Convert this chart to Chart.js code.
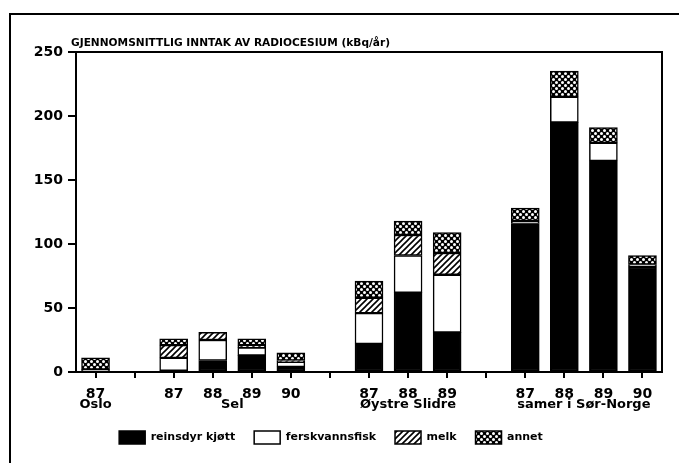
<!DOCTYPE html>
<html>
<head>
<meta charset="utf-8">
<script src="https://cdn.jsdelivr.net/npm/chart.js@4/dist/chart.umd.min.js"></script>
<style>
  html, body { margin: 0; padding: 0; background: #fff; }
  #wrap { position: relative; width: 679px; height: 463px; }
</style>
</head>
<body>
<div id="wrap"><canvas id="chart" width="679" height="463"></canvas></div>
<script>
// Gjennomsnittlig inntak av radiocesium (kBq/år), stacked per food group

const years = ['87', '', '87', '88', '89', '90', '', '87', '88', '89', '', '87', '88', '89', '90'];
const groups = [
    { name: 'Oslo', idx: [0] },
    { name: 'Sel', idx: [2, 3, 4, 5] },
    { name: 'Øystre Slidre', idx: [7, 8, 9] },
    { name: 'samer i Sør-Norge', idx: [11, 12, 13, 14] }
];
// null = no segment in that bar
const reinsdyr = [null, null, 1, 9, 13, 4, null, 22, 62, 31, null, 116, 195, 165, 82];
const fersk    = [2, null, 10, 16, 6, 4, null, 24, 29, 45, null, 2, 20, 14, 2];
const melk     = [null, null, 10, 6, 2, 1, null, 12, 16, 17, null, null, null, null, null];
const annet    = [9, null, 5, null, 5, 6, null, 13, 11, 16, null, 10, 20, 12, 7];
const yTicks = [0, 50, 100, 150, 200, 250];

const FONT = 'DejaVu Sans';

// Fill patterns for the hatched and dotted segments
function hatchPattern() {
    const c = document.createElement('canvas');
    c.width = 6; c.height = 6;
    const g = c.getContext('2d');
    g.fillStyle = '#fff';
    g.fillRect(0, 0, 6, 6);
    g.strokeStyle = '#000';
    g.lineWidth = 1.6;
    g.beginPath();
    g.moveTo(-1, 7); g.lineTo(7, -1);
    g.moveTo(-4, 4); g.lineTo(4, -4);
    g.moveTo(2, 10); g.lineTo(10, 2);
    g.stroke();
    return g.createPattern(c, 'repeat');
}

function dotPattern() {
    const c = document.createElement('canvas');
    c.width = 6; c.height = 6;
    const g = c.getContext('2d');
    g.fillStyle = '#000';
    g.fillRect(0, 0, 6, 6);
    g.fillStyle = '#fff';
    g.beginPath();
    g.arc(1.5, 1.5, 1.5, 0, Math.PI * 2);
    g.arc(4.5, 4.5, 1.5, 0, Math.PI * 2);
    g.fill();
    return g.createPattern(c, 'repeat');
}

// Frame, plot box, title and group names
const decor = {
    id: 'decor',
    beforeDraw(chart) {
        const ctx = chart.ctx;
        ctx.save();
        ctx.strokeStyle = '#000';
        ctx.lineWidth = 2;
        ctx.strokeRect(10, 14, 720, 520);
        ctx.restore();
    },
    afterDraw(chart) {
        const ctx = chart.ctx;
        const a = chart.chartArea;
        const x = chart.scales.x;
        ctx.save();
        ctx.strokeStyle = '#000';
        ctx.lineWidth = 2;
        ctx.strokeRect(a.left, a.top, a.right - a.left, a.bottom - a.top);

        ctx.fillStyle = '#000';
        ctx.font = 'bold 10.6px ' + FONT;
        ctx.textAlign = 'left';
        ctx.textBaseline = 'alphabetic';
        ctx.fillText('GJENNOMSNITTLIG INNTAK AV RADIOCESIUM (kBq/år)', a.left - 5, a.top - 6);

        ctx.font = 'bold 13px ' + FONT;
        ctx.textAlign = 'center';
        ctx.textBaseline = 'middle';
        groups.forEach(gr => {
            const px = gr.idx.map(i => x.getPixelForValue(i));
            const cx = (Math.min(...px) + Math.max(...px)) / 2;
            ctx.fillText(gr.name, cx, a.bottom + 33);
        });
        ctx.restore();
    }
};

const hatch = hatchPattern();
const dots = dotPattern();

function ds(label, data, fill) {
    return {
        label: label,
        data: data,
        backgroundColor: fill,
        borderColor: '#000',
        borderWidth: 1.5,
        borderSkipped: false,
        barThickness: 28
    };
}

new Chart(document.getElementById('chart'), {
    type: 'bar',
    plugins: [decor],
    data: {
        labels: years,
        datasets: [
            ds('reinsdyr kjøtt', reinsdyr, '#000'),
            ds('ferskvannsfisk', fersk, '#fff'),
            ds('melk', melk, hatch),
            ds('annet', annet, dots)
        ]
    },
    options: {
        responsive: false,
        animation: false,
        layout: { padding: { top: 52, left: 0, right: 17, bottom: 9 } },
        plugins: {
            title: { display: false },
            tooltip: { enabled: false },
            legend: {
                position: 'bottom',
                labels: {
                    boxWidth: 26,
                    boxHeight: 13,
                    padding: 19,
                    color: '#000',
                    font: { family: FONT, size: 11, weight: 'bold' }
                }
            }
        },
        scales: {
            x: {
                stacked: true,
                offset: true,
                grid: { drawOnChartArea: false, drawTicks: true, tickLength: 6, color: '#000', lineWidth: 2, offset: false },
                border: { display: true, color: '#000', width: 2 },
                ticks: {
                    color: '#000',
                    padding: 8,
                    maxRotation: 0,
                    autoSkip: false,
                    font: { family: FONT, size: 14, weight: 'bold' }
                },
                afterFit(scale) { scale.height = 40; }
            },
            y: {
                stacked: true,
                min: 0,
                max: 250,
                grid: { drawOnChartArea: false, drawTicks: true, tickLength: 8, color: '#000', lineWidth: 2 },
                border: { display: true, color: '#000', width: 2 },
                afterBuildTicks(scale) { scale.ticks = yTicks.map(v => ({ value: v })); },
                ticks: {
                    color: '#000',
                    padding: 5,
                    font: { family: FONT, size: 14, weight: 'bold' }
                },
                afterFit(scale) { scale.width = 76; }
            }
        }
    }
});
</script>
</body>
</html>
